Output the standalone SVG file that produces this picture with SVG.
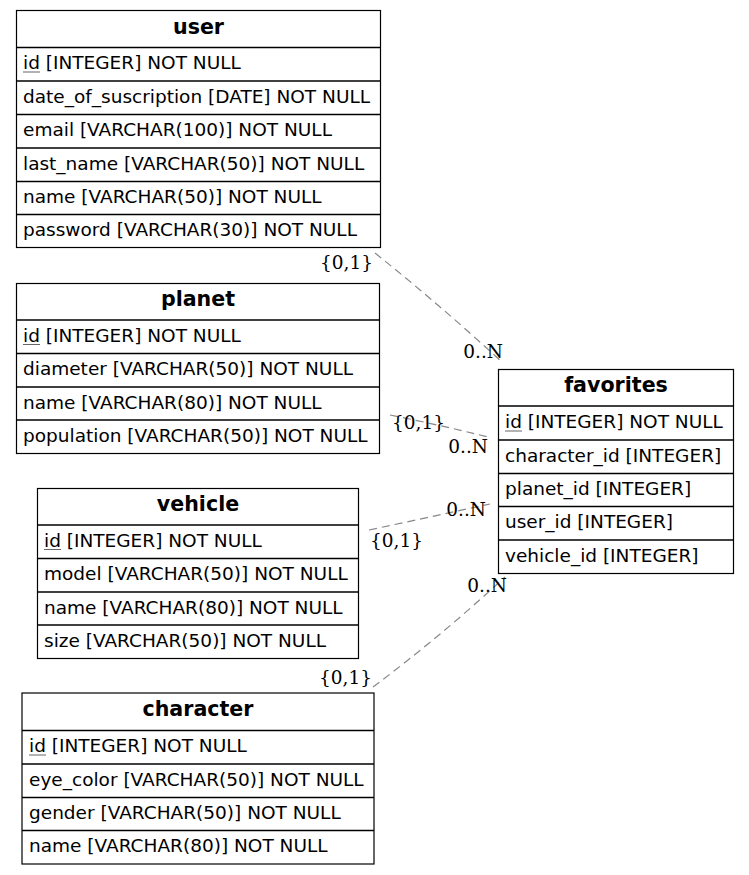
<svg xmlns="http://www.w3.org/2000/svg" width="749" height="875" viewBox="0 0 749 875">
<style>
.bg{fill:#fff}
.box{fill:#fff;stroke:#000;stroke-width:1.2}
.sep{stroke:#000;stroke-width:1.5}
.hd{font-family:"DejaVu Sans",sans-serif;font-weight:bold;font-size:20.6px;text-anchor:middle;fill:#000}
.rw{font-family:"DejaVu Sans",sans-serif;font-size:18.5px;fill:#000}
.ul{stroke:#666;stroke-width:1}
.edge{fill:none;stroke:#888;stroke-width:1.2;stroke-dasharray:8,5}
.lbl{font-family:"DejaVu Serif",serif;font-size:18.5px;fill:#000}
</style>
<rect class="bg" x="0" y="0" width="749" height="875"/>
<g id="connectors">
<path class="edge" d="M375,253 Q440,305 503,363"/>
<path class="edge" d="M390,415 Q440,425 488,437"/>
<path class="edge" d="M369,530 Q430,517 490,504"/>
<path class="edge" d="M373,687 Q440,637 505,577"/>
<text class="lbl" x="373" y="269" text-anchor="end">{0,1}</text>
<text class="lbl" x="503" y="358" text-anchor="end">0..N</text>
<text class="lbl" x="392" y="429">{0,1}</text>
<text class="lbl" x="488" y="453" text-anchor="end">0..N</text>
<text class="lbl" x="370" y="547">{0,1}</text>
<text class="lbl" x="486" y="516" text-anchor="end">0..N</text>
<text class="lbl" x="372" y="684" text-anchor="end">{0,1}</text>
<text class="lbl" x="507" y="592" text-anchor="end">0..N</text>
</g>
<g id="user">
<rect class="box" x="16.5" y="10.5" width="364" height="237"/>
<line class="sep" x1="16.5" y1="47.5" x2="380.5" y2="47.5"/>
<line class="sep" x1="16.5" y1="81" x2="380.5" y2="81"/>
<line class="sep" x1="16.5" y1="114.5" x2="380.5" y2="114.5"/>
<line class="sep" x1="16.5" y1="148" x2="380.5" y2="148"/>
<line class="sep" x1="16.5" y1="181.5" x2="380.5" y2="181.5"/>
<line class="sep" x1="16.5" y1="214.5" x2="380.5" y2="214.5"/>
<text class="hd" x="198.5" y="34">user</text>
<text class="rw" x="23" y="69">id [INTEGER] NOT NULL</text>
<line class="ul" x1="23" y1="72" x2="40" y2="72"/>
<text class="rw" x="23" y="102.5">date_of_suscription [DATE] NOT NULL</text>
<text class="rw" x="23" y="136">email [VARCHAR(100)] NOT NULL</text>
<text class="rw" x="23" y="169.5">last_name [VARCHAR(50)] NOT NULL</text>
<text class="rw" x="23" y="203">name [VARCHAR(50)] NOT NULL</text>
<text class="rw" x="23" y="236">password [VARCHAR(30)] NOT NULL</text>
</g>
<g id="planet">
<rect class="box" x="16.5" y="283.5" width="363" height="170"/>
<line class="sep" x1="16.5" y1="320" x2="379.5" y2="320"/>
<line class="sep" x1="16.5" y1="353.5" x2="379.5" y2="353.5"/>
<line class="sep" x1="16.5" y1="387" x2="379.5" y2="387"/>
<line class="sep" x1="16.5" y1="420" x2="379.5" y2="420"/>
<text class="hd" x="198" y="306">planet</text>
<text class="rw" x="23" y="341.5">id [INTEGER] NOT NULL</text>
<line class="ul" x1="23" y1="344.5" x2="40" y2="344.5"/>
<text class="rw" x="23" y="375">diameter [VARCHAR(50)] NOT NULL</text>
<text class="rw" x="23" y="408.5">name [VARCHAR(80)] NOT NULL</text>
<text class="rw" x="23" y="441.5">population [VARCHAR(50)] NOT NULL</text>
</g>
<g id="vehicle">
<rect class="box" x="37.5" y="488.5" width="321" height="170"/>
<line class="sep" x1="37.5" y1="525" x2="358.5" y2="525"/>
<line class="sep" x1="37.5" y1="558.5" x2="358.5" y2="558.5"/>
<line class="sep" x1="37.5" y1="592" x2="358.5" y2="592"/>
<line class="sep" x1="37.5" y1="625" x2="358.5" y2="625"/>
<text class="hd" x="198" y="511">vehicle</text>
<text class="rw" x="44" y="546.5">id [INTEGER] NOT NULL</text>
<line class="ul" x1="44" y1="549.5" x2="61" y2="549.5"/>
<text class="rw" x="44" y="580">model [VARCHAR(50)] NOT NULL</text>
<text class="rw" x="44" y="613.5">name [VARCHAR(80)] NOT NULL</text>
<text class="rw" x="44" y="646.5">size [VARCHAR(50)] NOT NULL</text>
</g>
<g id="favorites">
<rect class="box" x="498.5" y="369.5" width="235" height="204"/>
<line class="sep" x1="498.5" y1="406" x2="733.5" y2="406"/>
<line class="sep" x1="498.5" y1="440" x2="733.5" y2="440"/>
<line class="sep" x1="498.5" y1="473.5" x2="733.5" y2="473.5"/>
<line class="sep" x1="498.5" y1="506.5" x2="733.5" y2="506.5"/>
<line class="sep" x1="498.5" y1="540" x2="733.5" y2="540"/>
<text class="hd" x="616" y="392">favorites</text>
<text class="rw" x="505" y="428">id [INTEGER] NOT NULL</text>
<line class="ul" x1="505" y1="431" x2="522" y2="431"/>
<text class="rw" x="505" y="461.5">character_id [INTEGER]</text>
<text class="rw" x="505" y="495">planet_id [INTEGER]</text>
<text class="rw" x="505" y="528">user_id [INTEGER]</text>
<text class="rw" x="505" y="561.5">vehicle_id [INTEGER]</text>
</g>
<g id="character">
<rect class="box" x="22" y="693" width="352" height="171"/>
<line class="sep" x1="22" y1="730.5" x2="374" y2="730.5"/>
<line class="sep" x1="22" y1="764" x2="374" y2="764"/>
<line class="sep" x1="22" y1="797.5" x2="374" y2="797.5"/>
<line class="sep" x1="22" y1="830.5" x2="374" y2="830.5"/>
<text class="hd" x="198" y="716">character</text>
<text class="rw" x="29" y="752">id [INTEGER] NOT NULL</text>
<line class="ul" x1="29" y1="755" x2="46" y2="755"/>
<text class="rw" x="29" y="785.5">eye_color [VARCHAR(50)] NOT NULL</text>
<text class="rw" x="29" y="819">gender [VARCHAR(50)] NOT NULL</text>
<text class="rw" x="29" y="852">name [VARCHAR(80)] NOT NULL</text>
</g>
</svg>
